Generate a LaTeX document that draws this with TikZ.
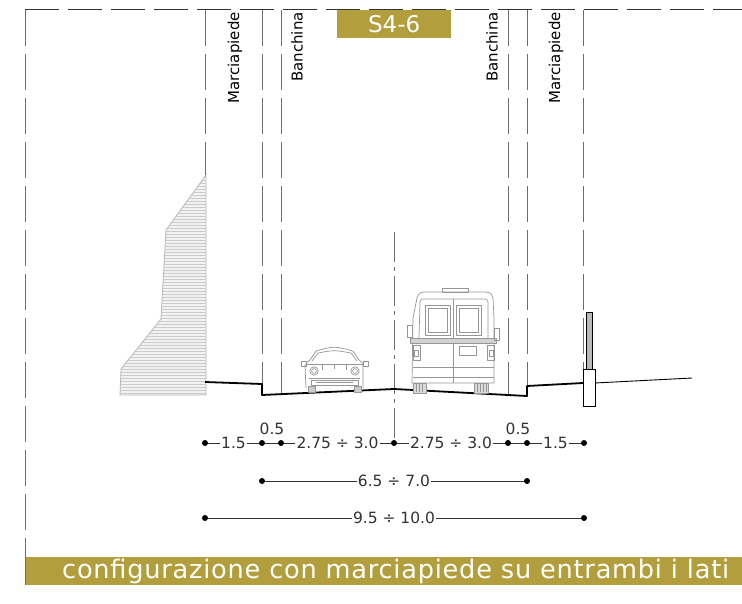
\documentclass[tikz,border=0pt]{standalone}
\usepackage{fontspec}
\setmainfont{DejaVu Sans}
\usetikzlibrary{patterns}
\definecolor{gold}{RGB}{178,158,60}
\definecolor{guidegray}{RGB}{110,110,110}
\definecolor{vehgray}{RGB}{150,150,150}

\begin{document}
\begin{tikzpicture}[x=1pt,y=-1pt,
  guide/.style={draw=guidegray, line width=0.9pt, dash pattern=on 36pt off 8pt},
  frameline/.style={draw=black!80, line width=1pt, dash pattern=on 34pt off 9pt},
  axisline/.style={draw=guidegray, line width=0.9pt, dash pattern=on 30pt off 5pt on 4pt off 5pt},
  road/.style={draw=black, line width=1.8pt, line join=round},
  dim/.style={draw=black!80, line width=0.8pt},
  dimdot/.style={fill=black, inner sep=0pt, minimum size=6pt, circle},
  dimtext/.style={fill=white, inner sep=1.2pt, text=black!80, font=\fontsize{15.5}{16}\selectfont},
  lanelabel/.style={rotate=90, anchor=east, inner sep=0pt, font=\fontsize{15}{15}\selectfont},
  veh/.style={draw=vehgray, line width=0.7pt, line join=round},
]
\useasboundingbox (0,0) rectangle (742,604);

% outer frame: top dashed line and left dashed border
\coordinate (frTL) at (25,10);
\coordinate (frTR) at (742,10);
\coordinate (frBL) at (25,550);
\draw[frameline] (frTL) -- (frTR);
\draw[guide] (frTL) -- (frBL);

% bottom caption bar
\fill[gold] (25,557) rectangle (742,585);
\draw[guidegray, line width=1pt] (25,550) -- (25,585);
\node[anchor=west, inner sep=0pt, text=white,
      font=\fontsize{25.6}{26}\selectfont\addfontfeatures{LetterSpace=3}]
  (caption) at (62,571) {configurazione con marciapiede su entrambi i lati};

% section tag
\node[anchor=north west, fill=gold, minimum width=114pt, minimum height=28pt,
      inner sep=0pt, text=white, font=\fontsize{23}{23}\selectfont]
  (tag) at (337,10) {S4-6};

% retaining wall on the left
\path[preaction={fill=gray!10}, pattern=horizontal lines, pattern color=gray!40,
      draw=gray!55, line width=0.8pt]
  (206,175) -- (166,230) -- (161,319) -- (121,369) -- (120,395) -- (206,395) -- cycle;

% vertical guide lines bounding sidewalks, shoulders and lanes
\coordinate (gA0) at (205,10);  \coordinate (gA1) at (205,175);
\coordinate (gB0) at (262,10);  \coordinate (gB1) at (262,384);
\coordinate (gC0) at (281,10);  \coordinate (gC1) at (281,393);
\coordinate (gD0) at (508,10);  \coordinate (gD1) at (508,395);
\coordinate (gE0) at (527,10);  \coordinate (gE1) at (527,386);
\coordinate (gF0) at (583,10);  \coordinate (gF1) at (583,369);
\foreach \g in {A,B,C,D,E,F} \draw[guide] (g\g0) -- (g\g1);

% carriageway axis
\coordinate (ax0) at (394,232);
\coordinate (ax1) at (394,443);
\draw[axisline] (ax0) -- (ax1);

% zone labels
\node[lanelabel] (mpL) at (235,12) {Marciapiede};
\node[lanelabel] (bnL) at (297,12) {Banchina};
\node[lanelabel] (bnR) at (492,12) {Banchina};
\node[lanelabel] (mpR) at (556,12) {Marciapiede};

% road surface profile
\draw[road] (205,382) -- (262,384) -- (262,395) -- (394,389) -- (527,396) -- (527,386) -- (583,383);
\draw[black, line width=0.9pt] (595,383) -- (692,378);

% bollard on the right sidewalk edge
\draw[black, line width=0.8pt, fill=gray!55] (586,312) rectangle (592,369);
\draw[black, line width=0.8pt, fill=white] (583,369) rectangle (595,406);

% car, front view
\begin{scope}[veh]
  \draw (306,388) -- (305,366) .. controls (307,362) .. (310,360) -- (316,351)
        .. controls (334,346) .. (353,351) -- (359,360) .. controls (362,362) .. (363,366) -- (363,388);
  \draw (312,361) -- (318,353) .. controls (334,350) .. (351,353) -- (357,361);
  \draw (306,364) -- (362,364);
  \draw (301,361) rectangle (306,366);
  \draw (363,361) rectangle (368,366);
  \draw (314,371) circle (4.2pt);  \draw (314,371) circle (2.4pt);
  \draw (355,371) circle (4.2pt);  \draw (355,371) circle (2.4pt);
  \draw (322,364) -- (322,370);  \draw (334,364) -- (334,369);  \draw (346,364) -- (346,370);
  \draw (309,378) -- (360,378);
  \draw (311,380) rectangle (358,385);
  \draw (316,382) -- (353,382);
  \draw[fill=gray!40] (308,386) rectangle (315,392);
  \draw[fill=gray!40] (354,386) rectangle (361,392);
\end{scope}

% van, rear view
\begin{scope}[veh]
  \draw (442,288) rectangle (468,292);
  \draw (412,383) -- (413,318) -- (417,298) .. controls (419,293) .. (424,292) -- (486,292)
        .. controls (491,293) .. (493,298) -- (494,318) -- (494,383) -- cycle;
  \draw (419,338) -- (420,302) .. controls (421,299) .. (424,299) -- (484,299)
        .. controls (487,299) .. (488,302) -- (488,338);
  \draw (425,305) rectangle (450,335);  \draw (428,308) rectangle (447,332);
  \draw (456,305) rectangle (481,335);  \draw (459,308) rectangle (478,332);
  \draw (453,299) -- (453,383);
  \draw[fill=gray!35] (410,338) rectangle (496,343);
  \draw (413,345) rectangle (420,360);  \draw (414,350) rectangle (418,356);
  \draw (487,345) rectangle (494,360);  \draw (489,350) rectangle (493,356);
  \draw (459,346) rectangle (476,355);
  \draw (413,367) -- (494,367);
  \draw (413,377) -- (494,377);
  \draw (407,325) rectangle (412,337);
  \draw (494,328) rectangle (499,340);
  \draw[fill=gray!30] (413,383) rectangle (426,393);
  \draw[fill=gray!30] (474,383) rectangle (488,393);
  \foreach \t in {416,419,422} \draw (\t,384) -- (\t,392);
  \foreach \t in {477,480,483,486} \draw (\t,384) -- (\t,392);
\end{scope}

% dimension chain: partial widths
\coordinate (d1a) at (205,443);
\coordinate (d1b) at (262,443);
\coordinate (d1c) at (281,443);
\coordinate (d1d) at (394,443);
\coordinate (d1e) at (508,443);
\coordinate (d1f) at (527,443);
\coordinate (d1g) at (584,443);
\draw[dim] (d1a) -- (d1g);
\node[dimtext] (w1) at (233.5,443) {1.5};
\node[dimtext] (w2) at (337.5,443) {2.75 ÷ 3.0};
\node[dimtext] (w3) at (451,443) {2.75 ÷ 3.0};
\node[dimtext] (w4) at (555.5,443) {1.5};
\node[dimtext, fill=none] (w5) at (272,429) {0.5};
\node[dimtext, fill=none] (w6) at (518,429) {0.5};
\foreach \p in {d1a,d1b,d1c,d1d,d1e,d1f,d1g} \node[dimdot] at (\p) {};

% carriageway width
\coordinate (d2a) at (262,481);
\coordinate (d2b) at (527,481);
\draw[dim] (d2a) -- (d2b);
\node[dimtext] (w7) at (394,481) {6.5 ÷ 7.0};
\foreach \p in {d2a,d2b} \node[dimdot] at (\p) {};

% total platform width
\coordinate (d3a) at (205,518);
\coordinate (d3b) at (584,518);
\draw[dim] (d3a) -- (d3b);
\node[dimtext] (w8) at (394,518) {9.5 ÷ 10.0};
\foreach \p in {d3a,d3b} \node[dimdot] at (\p) {};
\end{tikzpicture}
\end{document}
